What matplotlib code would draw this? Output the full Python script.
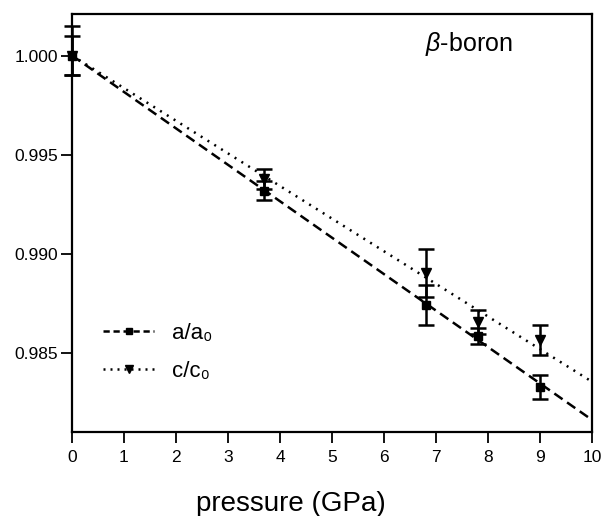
import matplotlib
matplotlib.use("Agg")
import matplotlib.pyplot as plt
from matplotlib.lines import Line2D

plt.rcParams["font.family"] = ["Liberation Sans", "DejaVu Sans"]
plt.rcParams["mathtext.fontset"] = "custom"
plt.rcParams["mathtext.rm"] = "Liberation Sans"
plt.rcParams["mathtext.it"] = "Liberation Sans:italic"

# measured points (pressure in GPa)
p_a = [0.0, 3.7, 6.8, 7.8, 9.0]
a_ratio = [1.0000, 0.9932, 0.98745, 0.98588, 0.98329]
a_err = [0.0010, 0.0005, 0.0010, 0.0004, 0.0006]

p_c = [0.0, 3.7, 6.8, 7.8, 9.0]
c_ratio = [1.0000, 0.9938, 0.98906, 0.98660, 0.98567]
c_err_lo = [0.0010, 0.0005, 0.0012, 0.0006, 0.00075]
c_err_hi = [0.0015, 0.0005, 0.0012, 0.0006, 0.00075]

# fitted lines
fit_p = [0.0, 10.0]
fit_a = [1.0, 0.98165]
fit_c = [1.0, 0.98357]

fig = plt.figure(figsize=(6.03, 5.16), dpi=100)
ax = fig.add_axes([72 / 603, 84 / 516, 520 / 603, 418 / 516])

ax.plot(fit_p, fit_a, color="black", linestyle=(0, (4, 2.2)), linewidth=1.8)
ax.plot(fit_p, fit_c, color="black", linestyle=(0, (0.8, 2.4)), linewidth=1.8)

eb_a = ax.errorbar(p_a, a_ratio, yerr=a_err, fmt="s", color="black", markersize=5.5,
                   elinewidth=1.8, capsize=6, capthick=1.8)
eb_c = ax.errorbar(p_c, c_ratio, yerr=[c_err_lo, c_err_hi], fmt="v", color="black",
                   markersize=7.5, elinewidth=1.8, capsize=6, capthick=1.8)
for eb in (eb_a, eb_c):
    for art in eb.lines[0:1] + eb.lines[1] + eb.lines[2]:
        art.set_clip_on(False)

ax.set_xlim(0, 10)
ax.set_ylim(0.98104, 1.00209)
ax.set_xticks(range(0, 11))
ax.set_yticks([0.985, 0.990, 0.995, 1.000])
ax.set_yticklabels(["0.985", "0.990", "0.995", "1.000"])
ax.tick_params(direction="out", length=8, width=1.3, labelsize=12.5)
ax.tick_params(axis="x", pad=5)
ax.tick_params(axis="y", pad=2)
for s in ax.spines.values():
    s.set_linewidth(1.6)

ax.text(425 / 603, 1 - 44 / 516, r"$\mathit{\beta}$-boron", transform=fig.transFigure,
        fontsize=18, ha="left", va="center")

fig.text(291 / 603, 1 - 504 / 516, "pressure (GPa)", fontsize=20, ha="center", va="center")

handles = [
    Line2D([], [], color="black", linestyle=(0, (2.5, 1.5)), linewidth=1.8, marker="s", markersize=5),
    Line2D([], [], color="black", linestyle=(0, (0.8, 2)), linewidth=1.8, marker="v", markersize=6),
]
ax.legend(handles, ["a/a\u2080", "c/c\u2080"], loc="upper left",
          bbox_to_anchor=(103 / 603, 1 - 323 / 516), bbox_transform=fig.transFigure,
          frameon=False, fontsize=16, numpoints=1, handlelength=2.3,
          handletextpad=0.8, labelspacing=0.75, borderpad=0, borderaxespad=0)

fig.savefig("out.png", dpi=100)
